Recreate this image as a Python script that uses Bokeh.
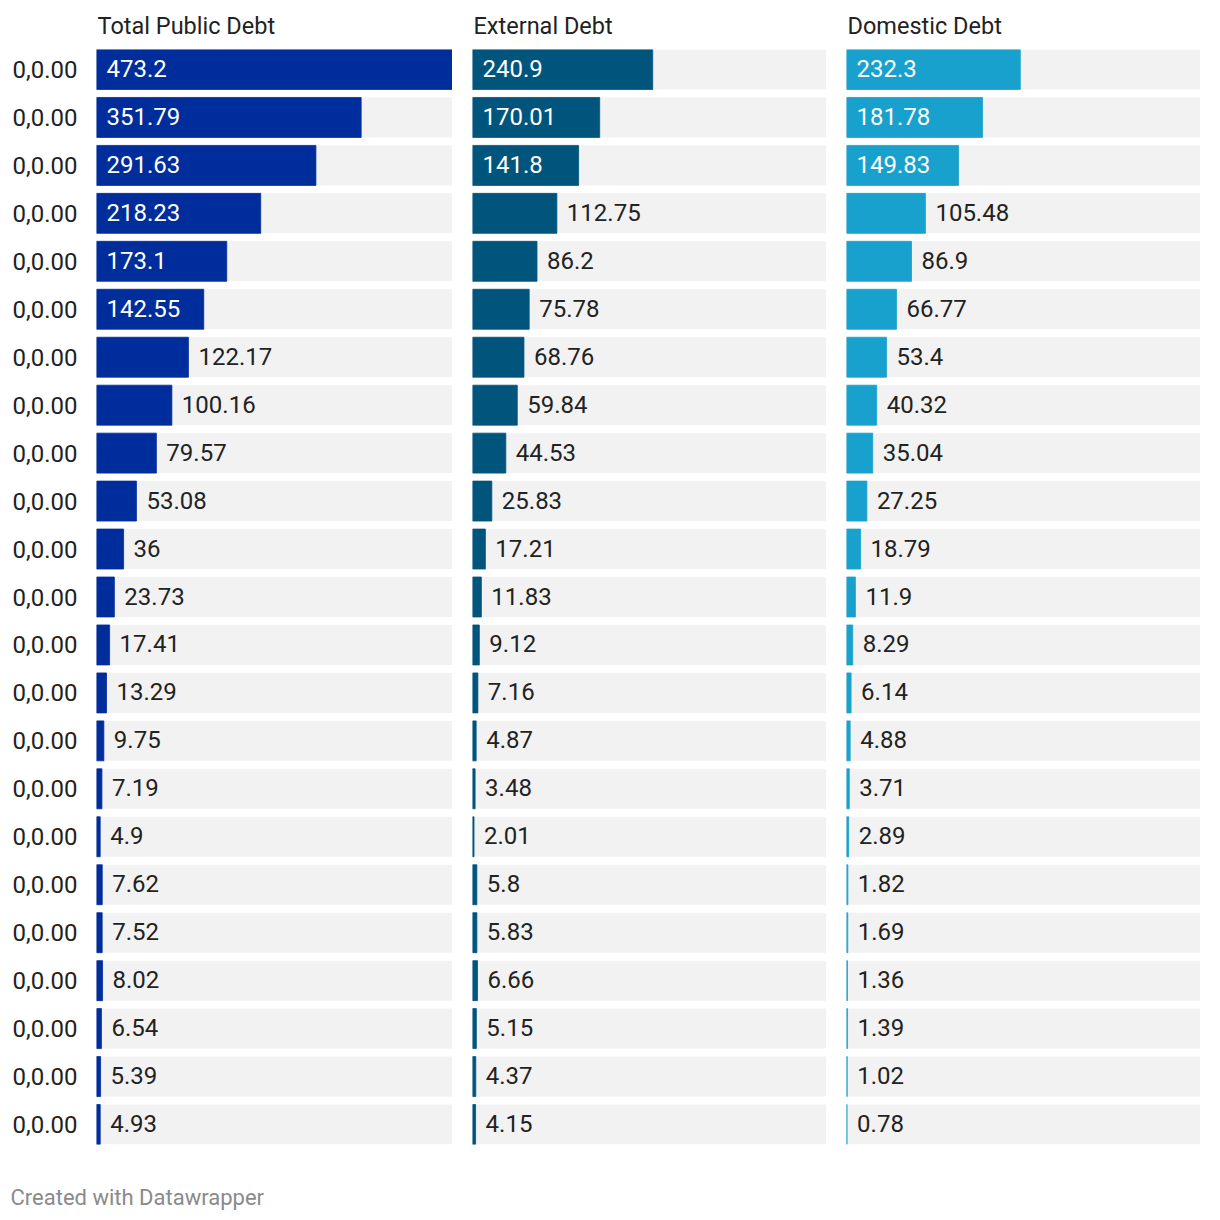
from bokeh.plotting import figure
from bokeh.layouts import row, column
from bokeh.models import Range1d, ColumnDataSource, FixedTicker, Title, Label
from bokeh.core.properties import value
from bokeh.embed import file_html
from bokeh.resources import INLINE

# ---- data ----
row_labels = ["0,0.00"] * 23
total_debt = [473.2, 351.79, 291.63, 218.23, 173.1, 142.55, 122.17, 100.16, 79.57, 53.08, 36,
              23.73, 17.41, 13.29, 9.75, 7.19, 4.9, 7.62, 7.52, 8.02, 6.54, 5.39, 4.93]
external_debt = [240.9, 170.01, 141.8, 112.75, 86.2, 75.78, 68.76, 59.84, 44.53, 25.83, 17.21,
                 11.83, 9.12, 7.16, 4.87, 3.48, 2.01, 5.8, 5.83, 6.66, 5.15, 4.37, 4.15]
domestic_debt = [232.3, 181.78, 149.83, 105.48, 86.9, 66.77, 53.4, 40.32, 35.04, 27.25, 18.79,
                 11.9, 8.29, 6.14, 4.88, 3.71, 2.89, 1.82, 1.69, 1.36, 1.39, 1.02, 0.78]
panel_titles = ["Total Public Debt", "External Debt", "Domestic Debt"]
colors = ["#002d9c", "#01547c", "#18a1cd"]
footer = "Created with Datawrapper"

FONT = "Roboto"
XMAX = max(total_debt)
N = len(row_labels)
BAR_H = 40 / 48
INSIDE_MIN = 130


def make_panel(vals, title, color, first):
    ys = list(range(N))
    inside = [v > INSIDE_MIN for v in vals]
    src = ColumnDataSource(dict(
        y=ys, v=vals, full=[XMAX] * N,
        lx=[0 if ins else v for ins, v in zip(inside, vals)],
        txt=[f"{v:g}" for v in vals],
        tc=["#ffffff" if ins else "#222222" for ins in inside],
    ))
    w = 452 if first else 374
    p = figure(width=w, height=1152, output_backend="svg", toolbar_location=None, tools="",
               x_range=Range1d(0, XMAX), y_range=Range1d(N - 1 + BAR_H / 2, -BAR_H / 2),
               min_border_left=96 if first else 20, min_border_right=0,
               min_border_top=48, min_border_bottom=8)
    p.outline_line_color = None
    p.grid.visible = False
    p.xaxis.visible = False
    p.background_fill_color = "white"
    p.border_fill_color = "white"

    p.hbar(y="y", left=0, right="full", height=BAR_H, source=src,
           fill_color="#f2f2f2", line_color=None)
    p.hbar(y="y", left=0, right="v", height=BAR_H, source=src,
           fill_color=color, line_color=color, line_width=0.8)
    p.text(x="lx", y="y", text="txt", source=src, x_offset=10, y_offset=-1,
           text_color="tc", text_font=value(FONT), text_font_size="24px",
           text_baseline="middle", text_align="left")

    t = Title(text=title, align="left", offset=1, text_font=FONT, text_font_size="23.5px",
              text_font_style="normal", text_color="#222222", standoff=19)
    p.add_layout(t, "above")

    if first:
        ax = p.yaxis[0]
        ax.ticker = FixedTicker(ticks=list(range(N)))
        ax.major_label_overrides = {i: lab for i, lab in enumerate(row_labels)}
        ax.axis_line_color = None
        ax.major_tick_line_color = None
        ax.minor_tick_line_color = None
        ax.major_tick_in = 0
        ax.major_tick_out = 0
        ax.major_label_standoff = 19
        ax.major_label_text_font = FONT
        ax.major_label_text_font_size = "24px"
        ax.major_label_text_color = "#222222"
    else:
        p.yaxis.visible = False
    return p


p1 = make_panel(total_debt, panel_titles[0], colors[0], True)
p2 = make_panel(external_debt, panel_titles[1], colors[1], False)
p3 = make_panel(domestic_debt, panel_titles[2], colors[2], False)

pf = figure(width=1200, height=60, output_backend="svg", toolbar_location=None, tools="",
            x_range=Range1d(0, 1), y_range=Range1d(0, 1),
            min_border=0, min_border_left=0, min_border_right=0,
            min_border_top=0, min_border_bottom=0)
pf.axis.visible = False
pf.grid.visible = False
pf.outline_line_color = None
pf.add_layout(Label(x=10, y=15, x_units="screen", y_units="screen", text=footer,
                    text_font=FONT, text_font_size="22px", text_color="#8a8a8a",
                    text_baseline="middle", text_align="left"))

layout = column(row(p1, p2, p3), pf)
open("out.html", "w").write(file_html(layout, INLINE))
